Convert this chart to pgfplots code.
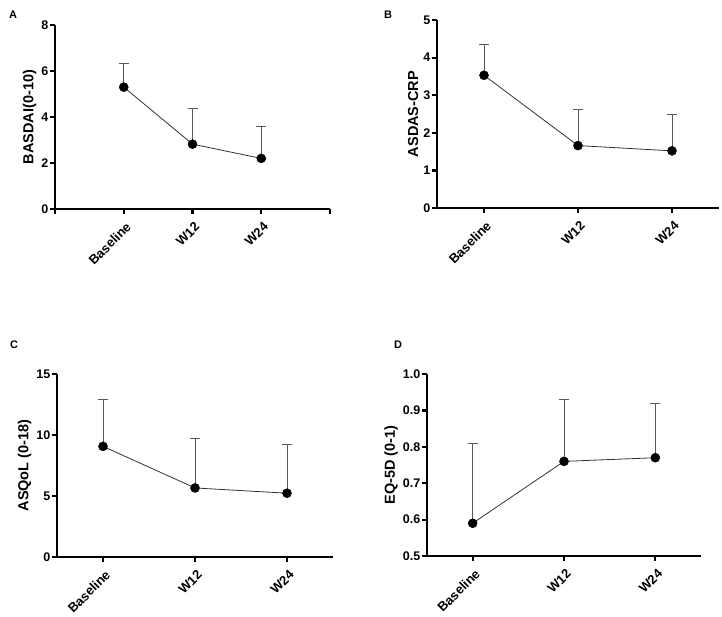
\documentclass[border=0pt]{standalone}
\usepackage{fontspec}
\setmainfont{Liberation Sans}
\usepackage{pgfplots}
\pgfplotsset{compat=1.18}
\pgfplotsset{
 panel/.style={
  scale only axis, anchor=south west,
  axis x line*=bottom, axis y line*=left,
  axis line style={line width=2.2pt},
  tick style={line width=2.2pt, black},
  tick align=outside, major tick length=5pt,
  enlargelimits=false, clip=false,
  xtick={1,2,3}, xticklabels={Baseline,W12,W24},
  xticklabel style={rotate=45, anchor=north east, font=\bfseries\fontsize{13}{13}\selectfont, inner sep=1pt, xshift=-3pt, yshift=-5pt},
  yticklabel style={font=\bfseries\fontsize{12.5}{12.5}\selectfont, inner sep=1.5pt},
  ylabel style={font=\bfseries\fontsize{14.5}{14.5}\selectfont},
  /pgf/number format/assume math mode=true,
  xmin=0.5, xmax=3.5,
 },
 series/.style={color=black!80, line width=0.8pt, mark=*, mark size=4.5pt,
   mark options={fill=black, draw=black, line width=0.5pt},
   error bars/.cd, y dir=plus, y explicit,
   error bar style={line width=0.8pt, black!65},
   error mark=-,
   error mark options={rotate=90, mark size=5pt, line width=0.8pt, black!65}},
}
\begin{document}
\begin{tikzpicture}
\useasboundingbox (0,0) rectangle (722pt,-616pt);
% Panel A
\begin{axis}[panel, at={(55pt,-209pt)}, width=275pt, height=184pt,
  xmin=0, xmax=4, xtick={0,1,2,3,4}, xticklabels={,Baseline,W12,W24,},
  ymin=0, ymax=8, ytick={0,2,4,6,8}, ylabel={BASDAI(0-10)}]
\addplot[series] coordinates {(1,5.30) +- (0,1.01) (2,2.82) +- (0,1.55) (3,2.20) +- (0,1.39)};
\end{axis}
% Panel B
\begin{axis}[panel, at={(437pt,-208pt)}, width=282pt, height=188pt,
  ymin=0, ymax=5, ytick={0,1,2,3,4,5}, ylabel={ASDAS-CRP}]
\addplot[series] coordinates {(1,3.53) +- (0,0.81) (2,1.66) +- (0,0.97) (3,1.52) +- (0,0.96)};
\end{axis}
% Panel C
\begin{axis}[panel, at={(57pt,-557pt)}, width=276pt, height=183pt,
  ymin=0, ymax=15, ytick={0,5,10,15}, ylabel={ASQoL (0-18)}]
\addplot[series] coordinates {(1,9.07) +- (0,3.83) (2,5.66) +- (0,4.06) (3,5.23) +- (0,4.03)};
\end{axis}
% Panel D
\begin{axis}[panel, at={(427pt,-556pt)}, width=274pt, height=182pt,
  ymin=0.5, ymax=1.0, ytick={0.5,0.6,0.7,0.8,0.9,1.0}, ylabel={EQ-5D (0-1)},
  yticklabel style={/pgf/number format/.cd, fixed, fixed zerofill, precision=1}]
\addplot[series] coordinates {(1,0.59) +- (0,0.22) (2,0.76) +- (0,0.17) (3,0.77) +- (0,0.15)};
\end{axis}
\node[font=\bfseries\fontsize{11}{11}\selectfont] at (13pt,-15pt) {A};
\node[font=\bfseries\fontsize{11}{11}\selectfont] at (388pt,-15pt) {B};
\node[font=\bfseries\fontsize{11}{11}\selectfont] at (14pt,-345pt) {C};
\node[font=\bfseries\fontsize{11}{11}\selectfont] at (398pt,-345pt) {D};
\end{tikzpicture}
\end{document}
